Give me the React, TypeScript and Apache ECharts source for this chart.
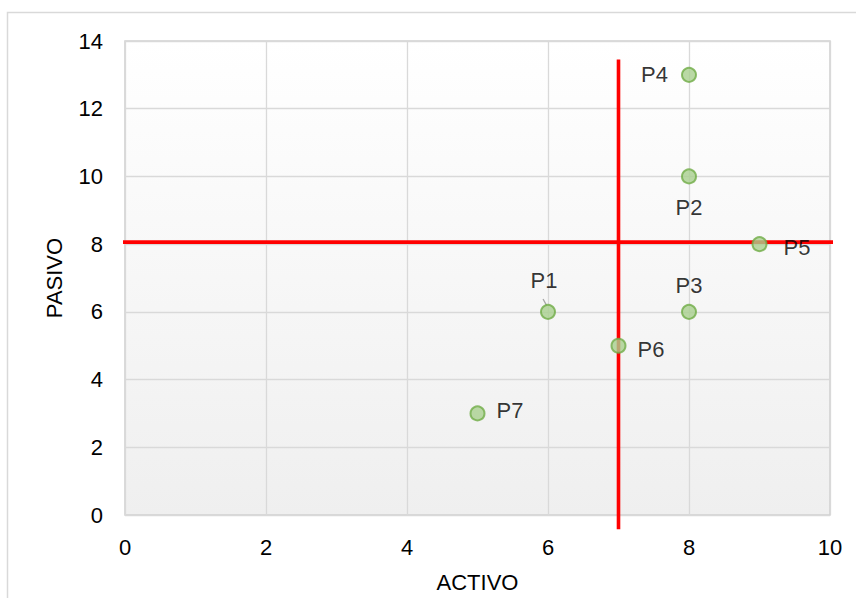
import React, { useEffect, useRef } from "react";
import * as echarts from "echarts";

const pointNames = ["P1", "P2", "P3", "P4", "P5", "P6", "P7"];
const activo = [6, 8, 8, 8, 9, 7, 5];
const pasivo = [6, 10, 6, 13, 8, 5, 3];
const labelPositions = ["top", "bottom", "top", "left", "right", "right", "right"];
const labelDistances = [12, 12, 7, 13, 16, 11, 11];
const labelOffsets = [[-4, 0], [0, 0], [0, 0], [0, 0], [0, 3], [0, 4], [0, -3]];
const verticalLine = [[7, 13.45], [7, -0.42]];
const horizontalLine = [[-0.06, 8.06], [10.08, 8.06]];
const p1Leader = [[5.93, 6.38], [5.985, 6.17]];

const FONT = "'Liberation Sans', Arial, Helvetica, sans-serif";

export default function App() {
  const ref = useRef<HTMLDivElement>(null);
  useEffect(() => {
    if (!ref.current) return;
    const chart = echarts.init(ref.current, undefined, { renderer: "svg" });
    const data = pointNames.map((n, i) => ({
      name: n,
      value: [activo[i], pasivo[i]],
      label: {
        show: true,
        formatter: n,
        position: labelPositions[i],
        distance: labelDistances[i],
        offset: labelOffsets[i],
        color: "#000000",
        fontFamily: FONT,
        fontSize: 22,
      },
    }));
    chart.setOption({
      animation: false,
      backgroundColor: "#ffffff",
      graphic: [
        {
          type: "rect",
          shape: { x: 7.5, y: 12.5, width: 1000, height: 800 },
          style: { fill: "none", stroke: "#d9d9d9", lineWidth: 1.5 },
          silent: true,
          z: -10,
        },
      ],
      grid: {
        left: 125,
        top: 41,
        right: 26,
        bottom: 83,
        show: true,
        borderColor: "#d0d0d0",
        borderWidth: 1.5,
        backgroundColor: new echarts.graphic.LinearGradient(0, 0, 0, 1, [
          { offset: 0, color: "#ffffff" },
          { offset: 1, color: "#efefef" },
        ]),
      },
      xAxis: {
        type: "value",
        min: 0,
        max: 10,
        interval: 2,
        name: "ACTIVO",
        nameLocation: "middle",
        nameGap: 56,
        nameTextStyle: { fontFamily: FONT, fontSize: 22, color: "#000" },
        axisLine: { show: false },
        axisTick: { show: false },
        axisLabel: { fontFamily: FONT, fontSize: 22, color: "#000", margin: 21 },
        splitLine: { show: true, lineStyle: { color: "#d9d9d9", width: 1.3 } },
      },
      yAxis: {
        type: "value",
        min: 0,
        max: 14,
        interval: 2,
        name: "PASIVO",
        nameLocation: "middle",
        nameRotate: 90,
        nameGap: 60,
        nameTextStyle: { fontFamily: FONT, fontSize: 22, color: "#000" },
        axisLine: { show: false },
        axisTick: { show: false },
        axisLabel: { fontFamily: FONT, fontSize: 22, color: "#000", margin: 22 },
        splitLine: { show: true, lineStyle: { color: "#d9d9d9", width: 1.3 } },
      },
      series: [
        {
          type: "line",
          data: verticalLine,
          clip: false,
          symbol: "none",
          lineStyle: { color: "#ff0000", width: 3.6 },
          z: 3,
          silent: true,
        },
        {
          type: "line",
          data: horizontalLine,
          clip: false,
          symbol: "none",
          lineStyle: { color: "#ff0000", width: 3.6 },
          z: 3,
          silent: true,
        },
        {
          type: "line",
          data: p1Leader,
          symbol: "none",
          lineStyle: { color: "#a6a6a6", width: 1.3 },
          z: 3,
          silent: true,
        },
        {
          type: "scatter",
          data,
          symbol: "circle",
          symbolSize: 14,
          clip: false,
          itemStyle: { color: "#a9d08e", borderColor: "#70ad47", borderWidth: 2 },
          label: { fontFamily: FONT, fontSize: 22, color: "#000" },
          z: 4,
        },
      ],
    });
    return () => chart.dispose();
  }, []);
  return (
    <div
      ref={ref}
      style={{ position: "fixed", left: 0, top: 0, width: 856, height: 598 }}
    />
  );
}
